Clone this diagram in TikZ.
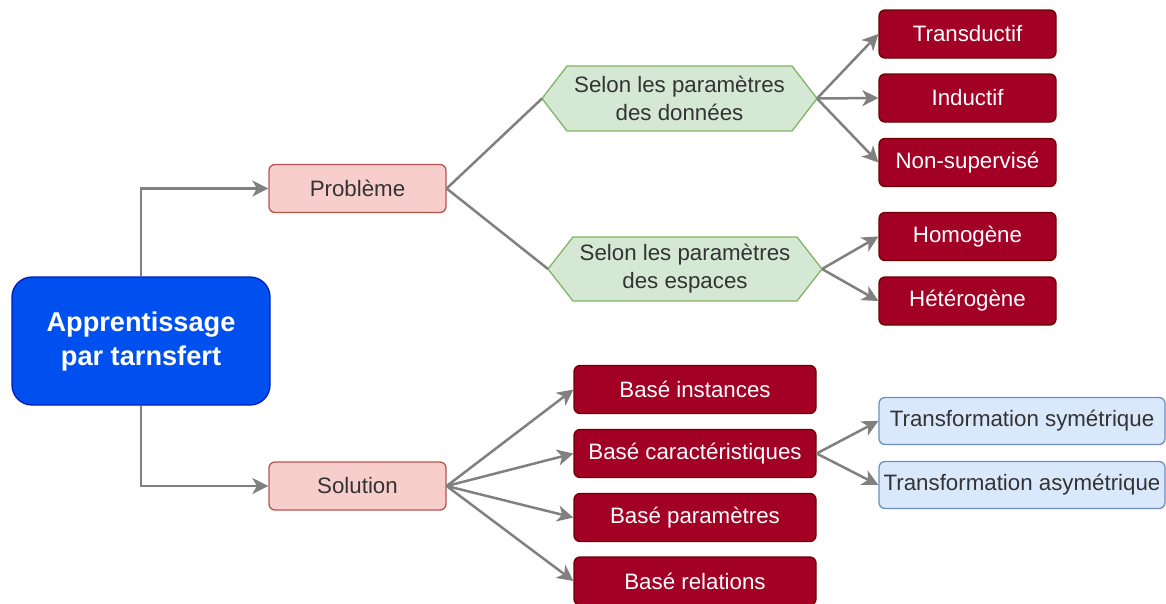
\documentclass[tikz,border=0pt]{standalone}
\usepackage{fontspec}
\setmainfont{Liberation Sans}
\usetikzlibrary{arrows.meta}

\definecolor{mainfill}{HTML}{0050EF}
\definecolor{maindraw}{HTML}{001DBC}
\definecolor{pinkfill}{HTML}{F8CECC}
\definecolor{pinkdraw}{HTML}{B85450}
\definecolor{greenfill}{HTML}{D5E8D4}
\definecolor{greendraw}{HTML}{82B366}
\definecolor{redfill}{HTML}{A20025}
\definecolor{reddraw}{HTML}{6F0000}
\definecolor{bluefill}{HTML}{DAE8FC}
\definecolor{bluedraw}{HTML}{6C8EBF}
\definecolor{linkgray}{HTML}{808080}
\definecolor{darktext}{HTML}{333333}

\tikzset{
  x=1pt, y=-1pt,
  basebox/.style={rectangle, rounded corners=6pt, line width=1.3pt, inner sep=0pt,
    font=\fontsize{22.3}{28}\selectfont, align=center},
  rootbox/.style={basebox, rounded corners=20pt, fill=mainfill, draw=maindraw, text=white,
    minimum width=258pt, minimum height=128pt, font=\fontsize{27.2}{34}\selectfont\bfseries},
  pinkbox/.style={basebox, fill=pinkfill, draw=pinkdraw, text=darktext,
    minimum width=177pt, minimum height=48pt},
  redbox/.style={basebox, fill=redfill, draw=reddraw, text=white,
    minimum height=48pt},
  bluebox/.style={basebox, fill=bluefill, draw=bluedraw, text=darktext,
    minimum width=286pt, minimum height=47pt},
  hexshape/.style={fill=greenfill, draw=greendraw, line width=1.3pt},
  hextext/.style={font=\fontsize{22.3}{28}\selectfont, text=darktext, align=center, inner sep=0pt},
  link/.style={draw=linkgray, line width=2.5pt},
  arrowlink/.style={link, -{Stealth[length=16pt,width=16pt,inset=4.5pt]}},
}

\begin{document}
\begin{tikzpicture}
\useasboundingbox (0,0) rectangle (1166,603);

% root and the two main branches
\node[rootbox] (root) at (141,341) {Apprentissage\\par tarnsfert};
\node[pinkbox] (prob) at (357.5,188.5) {Problème};
\node[pinkbox] (sol) at (357.5,486) {Solution};

% hexagonal criteria
\coordinate (h1w) at (542,98.5);
\coordinate (h1e) at (817,98.5);
\coordinate (h2w) at (548,269);
\coordinate (h2e) at (822,269);
\draw[hexshape] (h1w) -- (567,66) -- (792,66) -- (h1e) -- (792,131) -- (567,131) -- cycle;
\draw[hexshape] (h2w) -- (573,237) -- (797,237) -- (h2e) -- (797,301) -- (573,301) -- cycle;
\node[hextext] (h1) at (679.5,98.5) {Selon les paramètres\\des données};
\node[hextext] (h2) at (685,269) {Selon les paramètres\\des espaces};

% problem categories
\node[redbox, minimum width=177pt] (trans) at (967.5,34) {Transductif};
\node[redbox, minimum width=177pt] (induc) at (967.5,98) {Inductif};
\node[redbox, minimum width=177pt] (nonsup) at (967.5,162.5) {Non-supervisé};
\node[redbox, minimum width=177pt] (homo) at (967.5,236.5) {Homogène};
\node[redbox, minimum width=177pt] (hetero) at (967.5,301) {Hétérogène};

% solution categories
\node[redbox, minimum width=242pt] (inst) at (695,389.5) {Basé instances};
\node[redbox, minimum width=242pt] (carac) at (695,453.5) {Basé caractéristiques};
\node[redbox, minimum width=242pt] (param) at (695,517.5) {Basé paramètres};
\node[redbox, minimum width=242pt] (rel) at (695,581) {Basé relations};

% feature-based transformations
\node[bluebox] (sym) at (1022,421) {Transformation symétrique};
\node[bluebox] (asym) at (1022,485) {Transformation asymétrique};

% connectors
\draw[arrowlink] (root.north) |- (prob.west);
\draw[arrowlink] (root.south) |- (sol.west);

\draw[link] (prob.east) -- (h1w);
\draw[link] (prob.east) -- (h2w);

\draw[arrowlink] (h1e) -- (trans.west);
\draw[arrowlink] (h1e) -- (induc.west);
\draw[arrowlink] (h1e) -- (nonsup.west);
\draw[arrowlink] (h2e) -- (homo.west);
\draw[arrowlink] (h2e) -- (hetero.west);

\draw[arrowlink] (sol.east) -- (inst.west);
\draw[arrowlink] (sol.east) -- (carac.west);
\draw[arrowlink] (sol.east) -- (param.west);
\draw[arrowlink] (sol.east) -- (rel.west);

\draw[arrowlink] (carac.east) -- (sym.west);
\draw[arrowlink] (carac.east) -- (asym.west);
\end{tikzpicture}
\end{document}
